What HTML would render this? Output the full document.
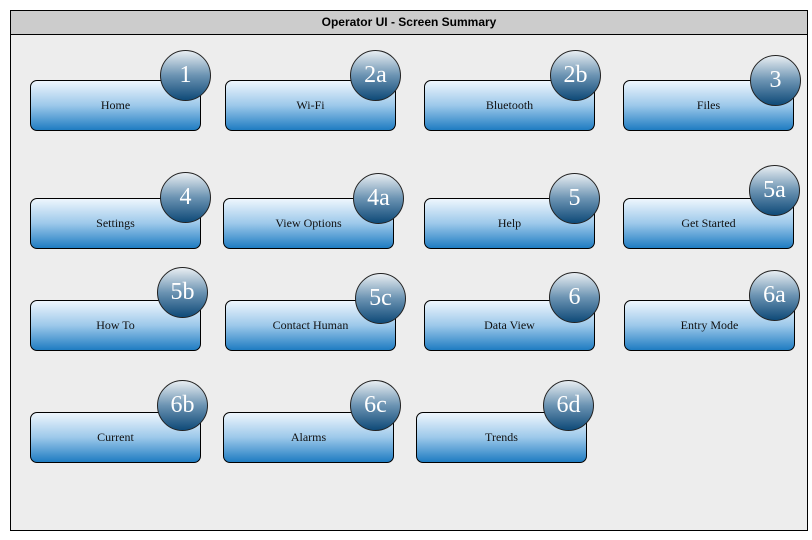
<!DOCTYPE html>
<html><head><style>
body{margin:0;width:812px;height:540px;background:#fff;position:relative;overflow:hidden;font-family:"Liberation Serif",serif}
.frame{position:absolute;left:10px;top:10px;width:796px;height:519px;border:1px solid #000;background:#ededed}
.title{position:absolute;left:0;top:0;right:0;height:23px;background:#cccccc;border-bottom:1px solid #000;font:bold 12px "Liberation Sans",sans-serif;text-align:center;line-height:22px}
.b{position:absolute;width:169px;height:49px;border:1px solid #000;border-radius:7px;background:linear-gradient(#eef6fd,#9cc8ea 50%,#1f7cc2);font-size:12px;text-align:center;line-height:49px;color:#111}
.c{position:absolute;width:49px;height:49px;border:1px solid #222;border-radius:50%;background:linear-gradient(#e9eef2,#6b93b2 50%,#0f4a78);color:#fff;font-size:24px;text-align:center;line-height:49px}
</style></head><body>
<div class="frame"><div class="title">Operator UI - Screen Summary</div></div>
<div class="b" style="left:30px;top:80px">Home</div><div class="c" style="left:160px;top:50px">1</div>
<div class="b" style="left:225px;top:80px">Wi-Fi</div><div class="c" style="left:350px;top:50px">2a</div>
<div class="b" style="left:424px;top:80px">Bluetooth</div><div class="c" style="left:550px;top:50px">2b</div>
<div class="b" style="left:623px;top:80px">Files</div><div class="c" style="left:750px;top:55px">3</div>
<div class="b" style="left:30px;top:198px">Settings</div><div class="c" style="left:160px;top:172px">4</div>
<div class="b" style="left:223px;top:198px">View Options</div><div class="c" style="left:353px;top:173px">4a</div>
<div class="b" style="left:424px;top:198px">Help</div><div class="c" style="left:549px;top:173px">5</div>
<div class="b" style="left:623px;top:198px">Get Started</div><div class="c" style="left:749px;top:165px">5a</div>
<div class="b" style="left:30px;top:300px">How To</div><div class="c" style="left:157px;top:267px">5b</div>
<div class="b" style="left:225px;top:300px">Contact Human</div><div class="c" style="left:355px;top:273px">5c</div>
<div class="b" style="left:424px;top:300px">Data View</div><div class="c" style="left:549px;top:272px">6</div>
<div class="b" style="left:624px;top:300px">Entry Mode</div><div class="c" style="left:749px;top:270px">6a</div>
<div class="b" style="left:30px;top:412px">Current</div><div class="c" style="left:157px;top:380px">6b</div>
<div class="b" style="left:223px;top:412px">Alarms</div><div class="c" style="left:350px;top:380px">6c</div>
<div class="b" style="left:416px;top:412px">Trends</div><div class="c" style="left:543px;top:380px">6d</div>
</body></html>
